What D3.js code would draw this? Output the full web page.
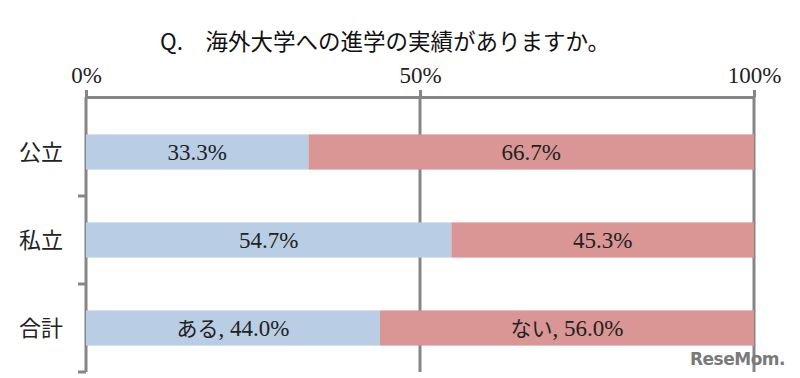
<!DOCTYPE html>
<html><head><meta charset="utf-8">
<script src="https://cdn.jsdelivr.net/npm/d3@7"></script>
<style>body{margin:0;background:#fff}svg{display:block}</style>
</head><body>
<svg id="c" width="800" height="378"></svg>
<script>
const categories = ["公立", "私立", "合計"];
const seriesNames = ["ある", "ない"];
const aruValues = [33.3, 54.7, 44.0];
const naiValues = [66.7, 45.3, 56.0];
const tickValues = [0, 50, 100];
const tickLabels = ["0%", "50%", "100%"];
const titleText = "Q.　海外大学への進学の実績がありますか。";

const svg = d3.select("#c");
const serif = "Liberation Serif, DejaVu Serif, serif";
const cjk = "Noto Sans CJK JP, Noto Sans, sans-serif";
const x = d3.scaleLinear().domain([0, 100]).range([86, 754]);
const y = d3.scaleBand().domain(categories).range([108, 372]).paddingInner(0.6).paddingOuter(0.3);
const yOuter = d3.scaleBand().domain(categories).range([108, 372]);
const colors = ["#B9CDE5", "#D99694"];
const gray = "#868686";

svg.append("text").attr("x", 385).attr("y", 50).attr("text-anchor", "middle")
  .attr("font-family", cjk).attr("font-size", 22.5).attr("fill", "#111").text(titleText);

// grid lines
svg.append("g").selectAll("line").data(tickValues.slice(1)).join("line")
  .attr("x1", d => x(d)).attr("x2", d => x(d)).attr("y1", 97).attr("y2", 372)
  .attr("stroke", gray).attr("stroke-width", 3);

// top axis
const xAxis = d3.axisTop(x).tickValues(tickValues).tickFormat((d, i) => tickLabels[i]).tickSize(7).tickSizeOuter(0);
const gx = svg.append("g").attr("transform", "translate(0,97)").call(xAxis);
gx.select(".domain").attr("stroke", gray).attr("stroke-width", 3);
gx.selectAll(".tick line").attr("stroke", gray).attr("stroke-width", 3);
gx.selectAll(".tick text").style("font-family", serif).style("font-size", "23px").attr("fill", "#222").attr("y", -14).attr("dy", 0);

// left axis
svg.append("line").attr("x1", 86).attr("x2", 86).attr("y1", 97).attr("y2", 372).attr("stroke", gray).attr("stroke-width", 3);
svg.append("g").selectAll("line").data(categories).join("line")
  .attr("x1", 78).attr("x2", 86)
  .attr("y1", d => yOuter(d) + yOuter.bandwidth()).attr("y2", d => yOuter(d) + yOuter.bandwidth())
  .attr("stroke", gray).attr("stroke-width", 3);
svg.append("g").selectAll("text").data(categories).join("text")
  .attr("x", 41).attr("y", d => y(d) + y.bandwidth() / 2).attr("dy", "0.36em")
  .attr("text-anchor", "middle").style("font-family", cjk).style("font-size", "22px").attr("fill", "#222").text(d => d);

// bars
const rows = categories.map((c, i) => ({c, a: aruValues[i], n: naiValues[i]}));
const g = svg.append("g");
rows.forEach((r, i) => {
  const segs = [{s: 0, v: r.a, col: colors[0], name: seriesNames[0]}, {s: r.a, v: r.n, col: colors[1], name: seriesNames[1]}];
  segs.forEach(sg => {
    g.append("rect").attr("x", x(sg.s)).attr("y", y(r.c)).attr("width", x(sg.s + sg.v) - x(sg.s))
      .attr("height", y.bandwidth()).attr("fill", sg.col);
    const t = g.append("text").attr("x", (x(sg.s) + x(sg.s + sg.v)) / 2).attr("y", y(r.c) + y.bandwidth() / 2)
      .attr("dy", "0.35em").attr("text-anchor", "middle").style("font-size", "23px").attr("fill", "#222");
    if (i === rows.length - 1) {
      t.append("tspan").style("font-family", cjk).style("font-size", "21px").text(sg.name);
      t.append("tspan").style("font-family", serif).text(", " + sg.v.toFixed(1) + "%");
    } else {
      t.style("font-family", serif).text(sg.v.toFixed(1) + "%");
    }
  });
});

// watermark
svg.append("text").attr("x", 785).attr("y", 365).attr("text-anchor", "end")
  .style("font-family", "DejaVu Sans, sans-serif").attr("font-weight", "bold").style("font-size", "17px")
  .attr("fill", "#7a7a7a").attr("letter-spacing", "-0.5").text("ReseMom.");
</script>
</body></html>
